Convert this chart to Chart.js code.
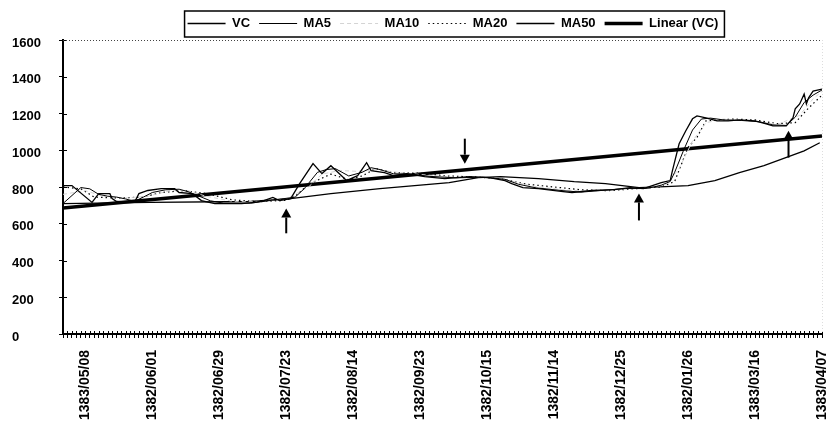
<!DOCTYPE html>
<html>
<head>
<meta charset="utf-8">
<script src="https://cdn.jsdelivr.net/npm/chart.js@4/dist/chart.umd.min.js"></script>
<style>
  html, body { margin: 0; padding: 0; background: #fff; }
  canvas { display: block; }
</style>
</head>
<body>
<canvas id="chart" width="826" height="436"></canvas>
<script>
// Dated tick labels, shown every LABEL_STEP trading days starting at FIRST_LABEL
const tickLabels = ['1383/05/08', '1382/06/01', '1382/06/29', '1382/07/23', '1382/08/14', '1382/09/23',
                    '1382/10/15', '1382/11/14', '1382/12/25', '1382/01/26', '1383/03/16', '1383/04/07'];
const FIRST_LABEL = 5;
const LABEL_STEP = 15;
const LAST_DAY = 170;

// Series as [day index, value] pairs
const vcPoints = [[0,808],[2,808],[6.5,716],[8,764],[10.5,764],[11,737],[12,721],[16,716],[17,764],[19,781],
  [22,791],[25,791],[26,770],[29,764],[31,726],[34,710],[40,710],[43,716],[45,726],[47,743],[48.5,726],[51,737],
  [53,818],[56,927],[58,873],[60,916],[63.5,835],[66,862],[68,932],[69,889],[72,878],[74,862],[77,873],[81,856],
  [85.5,846],[91,856],[95.5,851],[99,835],[100.5,818],[103,797],[106.5,791],[112,775],[114,770],[118.5,781],
  [123.5,786],[127,797],[130,791],[134,824],[136,835],[136.5,889],[138,1035],[139.5,1106],[141,1171],[142,1187],
  [144,1176],[146.5,1160],[149,1160],[151.5,1165],[155,1160],[157.5,1144],[159,1133],[162,1133],[163.5,1176],
  [164,1225],[165,1252],[166,1306],[166.5,1252],[167,1285],[168,1322],[170,1333]];

const ma5Points = [[0,710],[4,797],[6,790],[8,760],[10,750],[12,745],[14,735],[16,722],[18,745],[20,770],[23,785],
  [26,788],[28,775],[30,755],[33,725],[36,712],[42,712],[46,725],[49,735],[52,745],[54,790],[57,880],[59,895],
  [61,900],[64,860],[67,880],[69,905],[71,895],[74,872],[78,870],[82,858],[88,850],[94,853],[99,842],[102,815],
  [106,795],[112,780],[116,772],[120,780],[126,792],[131,793],[134,810],[136,830],[137,880],[139,1000],[141,1110],
  [143,1170],[145,1175],[148,1165],[152,1162],[156,1155],[159,1138],[162,1135],[164,1180],[166,1260],[168,1300],
  [170,1328]];

const ma10Points = [[0,760],[5,780],[9,750],[14,740],[19,750],[24,780],[28,780],[32,750],[38,722],[45,722],[50,735],
  [55,800],[58,870],[62,890],[66,885],[70,895],[75,880],[80,868],[88,853],[95,852],[100,835],[105,805],[112,785],
  [118,776],[124,785],[130,792],[135,812],[138,900],[141,1050],[144,1150],[148,1170],[154,1160],[160,1140],
  [165,1190],[168,1280],[170,1320]];

const ma20Points = [[0,800],[4,790],[7,745],[12,740],[18,745],[22,770],[27,780],[32,765],[38,730],[44,720],[50,728],
  [52,750],[55,815],[60,870],[64,840],[67,860],[70,900],[74,878],[80,875],[86,860],[92,855],[98,845],[104,815],
  [110,800],[116,785],[122,780],[128,790],[134,800],[137,830],[140,1016],[142,1070],[144,1160],[150,1170],
  [155,1165],[160,1145],[164,1150],[167,1230],[170,1300]];

const ma50Points = [[0,710],[19.5,716],[42,721],[51,737],[60,764],[71,791],[86.5,824],[93,851],[98,856],
  [106.5,846],[114.5,829],[121.5,818],[129,797],[135,802],[140,808],[146,835],[151.5,878],[157,916],
  [162.5,965],[166,997],[169.5,1041]];

const trendPoints = [[0,685],[170,1078]];

// Signal arrows: day index, tail value, head value
const arrows = [
  { at: 50,    from: 548,  to: 683 },
  { at: 90,    from: 1063, to: 927 },
  { at: 129,   from: 618,  to: 765 },
  { at: 162.5, from: 960,  to: 1106 }
];

const FONT = "'Liberation Sans', Arial, sans-serif";
const toXY = pts => pts.map(([x, y]) => ({ x, y }));

function series(label, pts, width, color, dash) {
  return {
    label, data: toXY(pts), borderColor: color, backgroundColor: color,
    borderWidth: width, borderDash: dash || [], pointRadius: 0, tension: 0, fill: false
  };
}

// White page behind the chart
const background = {
  id: 'background',
  beforeDraw(chart) {
    const { ctx } = chart;
    ctx.save();
    ctx.fillStyle = '#fff';
    ctx.fillRect(0, 0, chart.width, chart.height);
    ctx.restore();
  }
};

// Move the legend row to the right of centre
const legendShift = {
  id: 'legendShift',
  afterLayout(chart) {
    const lg = chart.legend;
    lg.left += 36;
    lg.right += 36;
  }
};

// Arrows, cross tick marks, plot frame and the legend box
const decorations = {
  id: 'decorations',
  afterDatasetsDraw(chart) {
    const { ctx, scales: { x, y } } = chart;
    ctx.save();
    ctx.strokeStyle = '#000';
    ctx.fillStyle = '#000';
    ctx.lineWidth = 2;
    arrows.forEach(ar => {
      const px = x.getPixelForValue(ar.at);
      const y0 = y.getPixelForValue(ar.from);
      const y1 = y.getPixelForValue(ar.to);
      const dir = Math.sign(y1 - y0);
      const head = 9, half = 5;
      ctx.beginPath();
      ctx.moveTo(px, y0);
      ctx.lineTo(px, y1 - dir * head);
      ctx.stroke();
      ctx.beginPath();
      ctx.moveTo(px, y1);
      ctx.lineTo(px - half, y1 - dir * head);
      ctx.lineTo(px + half, y1 - dir * head);
      ctx.closePath();
      ctx.fill();
    });
    ctx.restore();
  },
  afterDraw(chart) {
    const { ctx, chartArea: a, scales: { x, y } } = chart;
    ctx.save();
    // inner halves of the tick marks
    ctx.strokeStyle = '#000';
    ctx.lineWidth = 1;
    ctx.beginPath();
    x.ticks.forEach(t => {
      const px = Math.round(x.getPixelForValue(t.value)) + 0.5;
      ctx.moveTo(px, a.bottom - 3);
      ctx.lineTo(px, a.bottom);
    });
    y.ticks.forEach(t => {
      const py = Math.round(y.getPixelForValue(t.value)) + 0.5;
      ctx.moveTo(a.left, py);
      ctx.lineTo(a.left + 4, py);
    });
    ctx.stroke();
    // dotted top edge and faint right edge of the plot
    ctx.setLineDash([1, 2]);
    ctx.strokeStyle = '#444';
    ctx.beginPath();
    ctx.moveTo(a.left, a.top + 0.5);
    ctx.lineTo(a.right, a.top + 0.5);
    ctx.stroke();
    ctx.strokeStyle = '#ddd';
    ctx.beginPath();
    ctx.moveTo(a.right + 0.5, a.top);
    ctx.lineTo(a.right + 0.5, a.bottom);
    ctx.stroke();
    ctx.setLineDash([]);
    // legend frame
    const hb = chart.legend.legendHitBoxes;
    if (hb && hb.length) {
      const l = Math.min(...hb.map(h => h.left)) - 3;
      const r = Math.max(...hb.map(h => h.left + h.width)) + 6;
      const t = hb[0].top - 6;
      const b = hb[0].top + hb[0].height + 7;
      ctx.strokeStyle = '#000';
      ctx.lineWidth = 1.5;
      ctx.strokeRect(l, t, r - l, b - t);
    }
    ctx.restore();
  }
};

new Chart(document.getElementById('chart'), {
  type: 'line',
  data: {
    datasets: [
      series('VC', vcPoints, 1.3, '#000'),
      series('MA5', ma5Points, 1, '#000'),
      series('MA10', ma10Points, 1, '#d4d4d4', [4, 3]),
      series('MA20', ma20Points, 1.2, '#000', [1.5, 3]),
      series('MA50', ma50Points, 1.3, '#000'),
      series('Linear (VC)', trendPoints, 3.5, '#000')
    ]
  },
  options: {
    responsive: false,
    animation: false,
    devicePixelRatio: 1,
    layout: { padding: { left: 12, right: 4, top: 8, bottom: 0 } },
    plugins: {
      tooltip: { enabled: false },
      legend: {
        position: 'top',
        labels: {
          usePointStyle: true,
          pointStyle: 'line',
          pointStyleWidth: 38,
          padding: 9,
          color: '#000',
          font: { family: FONT, size: 13, weight: 'bold' },
          // line samples take the dash and width of their dataset
          generateLabels(chart) {
            const items = Chart.defaults.plugins.legend.labels.generateLabels(chart);
            items.forEach(it => {
              const ds = chart.data.datasets[it.datasetIndex];
              it.lineDash = ds.borderDash;
              it.lineWidth = ds.borderWidth;
              it.strokeStyle = ds.borderColor;
              it.fontColor = '#000';
            });
            return items;
          }
        }
      }
    },
    scales: {
      x: {
        type: 'linear',
        min: 0,
        max: LAST_DAY,
        afterBuildTicks(scale) {
          const ticks = [];
          for (let i = 0; i <= LAST_DAY; i++) ticks.push({ value: i });
          scale.ticks = ticks;
        },
        afterFit(scale) {
          scale.height = 102;
          scale.paddingLeft = 0;
          scale.paddingRight = 0;
        },
        grid: { drawOnChartArea: false, drawTicks: true, tickLength: 4, tickColor: '#000', tickWidth: 1 },
        border: { color: '#000', width: 2 },
        ticks: {
          autoSkip: false,
          minRotation: 90,
          maxRotation: 90,
          padding: 12,
          color: '#000',
          font: { family: FONT, size: 14, weight: 'bold' },
          callback(value) {
            const k = value - FIRST_LABEL;
            return (k >= 0 && k % LABEL_STEP === 0) ? tickLabels[k / LABEL_STEP] : '';
          }
        }
      },
      y: {
        min: 0,
        max: 1600,
        afterFit(scale) {
          scale.width = 51;
          scale.paddingTop = 0;
        },
        grid: { drawOnChartArea: false, drawTicks: true, tickLength: 4, tickColor: '#000', tickWidth: 1 },
        border: { color: '#000', width: 2 },
        ticks: {
          stepSize: 200,
          crossAlign: 'far',
          labelOffset: 3,
          color: '#000',
          font: { family: FONT, size: 13, weight: 'bold' },
          callback: v => String(v)
        }
      }
    }
  },
  plugins: [background, legendShift, decorations]
});
</script>
</body>
</html>
